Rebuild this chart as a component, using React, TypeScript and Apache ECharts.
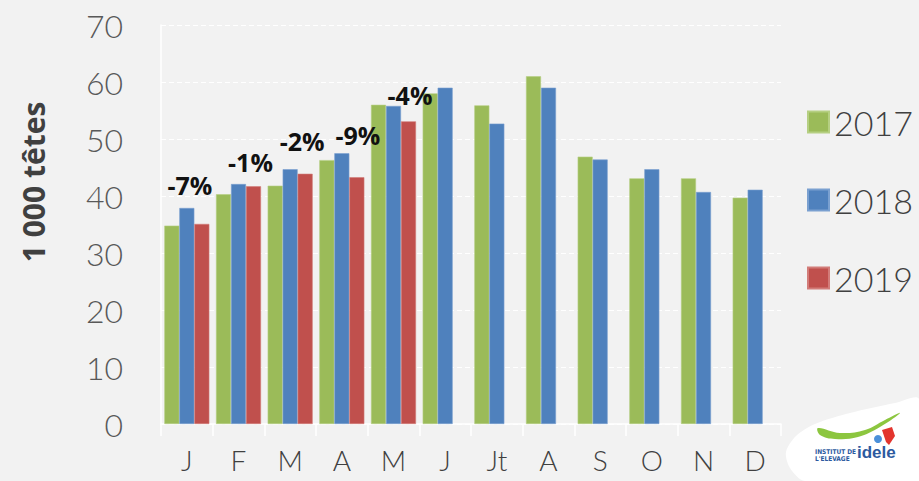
import React, { useEffect, useRef } from "react";
import * as echarts from "echarts";

const months = ["J", "F", "M", "A", "M", "J", "Jt", "A", "S", "O", "N", "D"];
const values2017 = [34.8, 40.3, 41.8, 46.3, 56.0, 58.0, 55.9, 61.0, 46.9, 43.1, 43.1, 39.7];
const values2018 = [37.9, 42.1, 44.7, 47.5, 55.8, 59.0, 52.7, 59.0, 46.4, 44.7, 40.7, 41.1];
const values2019 = [35.1, 41.7, 43.9, 43.3, 53.1, null, null, null, null, null, null, null];
const changeLabels = ["-7%", "-1%", "-2%", "-9%", "-4%"];
const yTicks = [0, 10, 20, 30, 40, 50, 60, 70];

const labelOffsets: number[][] = [
  [-12, -26],
  [-3, -12],
  [-3, -20],
  [1, -30],
  [1.5, -14],
];

export default function App() {
  const ref = useRef<HTMLDivElement>(null);
  useEffect(() => {
    if (!ref.current) return;
    const chart = echarts.init(ref.current, null, { renderer: "svg" });
    const numFont = "Lato, 'Open Sans', sans-serif";
    const redData = values2019.map((v, i) =>
      i < changeLabels.length
        ? {
            value: v,
            label: {
              show: true,
              position: "top",
              distance: 0,
              offset: labelOffsets[i],
              formatter: changeLabels[i],
              fontSize: 25,
              lineHeight: 25,
              fontWeight: "bold",
              color: "#111",
              fontFamily: "'Open Sans', Lato, sans-serif",
            },
          }
        : { value: v }
    );
    chart.setOption({
      animation: false,
      backgroundColor: "#f2f2f2",
      grid: { left: 161, right: 138, top: 25, bottom: 57, containLabel: false },
      legend: {
        orient: "vertical",
        left: 802,
        top: 99,
        itemWidth: 21,
        itemHeight: 21,
        itemGap: 42,
        icon: "rect",
        textStyle: { fontSize: 34, lineHeight: 36, color: "#404040", fontFamily: numFont, fontWeight: 300 },
        data: ["2017", "2018", "2019"],
      },
      xAxis: {
        type: "category",
        data: months,
        boundaryGap: true,
        axisLine: { show: true, lineStyle: { color: "#ffffff", width: 1.5 } },
        axisTick: { show: true, length: 12, interval: 0, lineStyle: { color: "#ffffff", width: 1.5 } },
        axisLabel: { fontSize: 28, lineHeight: 28, color: "#404040", margin: 22, fontFamily: numFont, fontWeight: 300, interval: 0 },
      },
      yAxis: {
        type: "value",
        min: yTicks[0],
        max: yTicks[yTicks.length - 1],
        interval: 10,
        axisLine: { show: true, lineStyle: { color: "#ffffff", width: 1.5 } },
        axisTick: { show: false },
        axisLabel: { fontSize: 32, color: "#595959", margin: 38, fontFamily: numFont, fontWeight: 300 },
        splitLine: { show: true, lineStyle: { color: "#ffffff", type: [5, 3], width: 1.2 } },
      },
      series: [
        {
          name: "2017",
          type: "bar",
          data: values2017,
          barWidth: 15,
          barGap: "0%",
          itemStyle: { color: "#9bbb59", borderColor: "#b5cf82", borderWidth: 0.6 },
        },
        {
          name: "2018",
          type: "bar",
          data: values2018,
          barWidth: 15,
          barGap: "0%",
          itemStyle: { color: "#4f81bd", borderColor: "#7aa0d0", borderWidth: 0.6 },
        },
        {
          name: "2019",
          type: "bar",
          data: redData,
          barWidth: 15,
          barGap: "0%",
          itemStyle: { color: "#c0504d", borderColor: "#d27c79", borderWidth: 0.6 },
        },
      ],
      graphic: [
        {
          type: "text",
          x: 33,
          y: 182,
          rotation: Math.PI / 2,
          style: {
            text: "1 000 têtes",
            fontSize: 30,
            fontWeight: "bold",
            fill: "#404040",
            fontFamily: "'Open Sans', Lato, sans-serif",
            align: "center",
            verticalAlign: "middle",
          },
        },
        {
          type: "polygon",
          shape: {
            points: [
              [786, 452],
              [796, 436],
              [815, 424],
              [850, 413],
              [895, 403],
              [919, 399],
              [919, 481],
              [805, 481],
              [790, 468],
            ],
            smooth: 0.3,
          },
          style: { fill: "#ffffff" },
        },
        {
          type: "polygon",
          shape: {
            points: [
              [818, 428],
              [840, 433],
              [865, 430],
              [885, 420],
              [900, 413],
              [880, 427],
              [858, 437],
              [835, 439],
              [820, 435],
            ],
            smooth: 0.4,
          },
          style: { fill: "#8cc63f" },
        },
        {
          type: "polygon",
          shape: { points: [[882, 430], [892, 427], [895, 436], [889, 445], [886, 442]] },
          style: { fill: "#e3352e" },
        },
        {
          type: "circle",
          shape: { cx: 878, cy: 439, r: 4 },
          style: { fill: "#4a90d9" },
        },
        {
          type: "text",
          x: 815,
          y: 448,
          style: { text: "INSTITUT DE\nL'ELEVAGE", fontSize: 6.5, fontWeight: "bold", fill: "#2c5aa0", fontFamily: "'Liberation Sans Narrow', 'DejaVu Sans Condensed', sans-serif", lineHeight: 7 },
        },
        {
          type: "text",
          x: 857,
          y: 444,
          style: { text: "idele", fontSize: 17, fontWeight: "bold", fill: "#2c5aa0", fontFamily: "'Liberation Sans', sans-serif" },
        },
      ],
    });
    return () => chart.dispose();
  }, []);
  return (
    <div
      ref={ref}
      style={{ position: "fixed", left: 0, top: 0, width: 919, height: 481 }}
    />
  );
}
